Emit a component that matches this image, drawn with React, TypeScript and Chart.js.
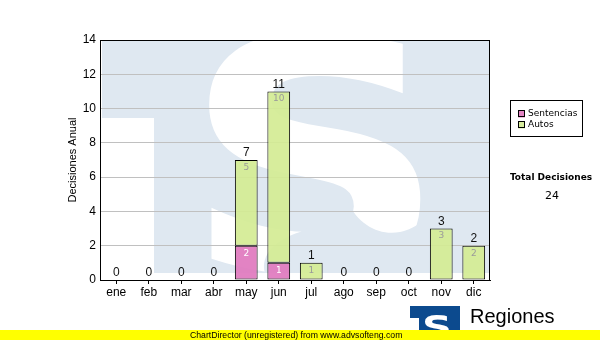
import React, { useEffect, useRef } from "react";
import { Chart, registerables } from "chart.js";

Chart.register(...registerables);

const months = ["ene", "feb", "mar", "abr", "may", "jun", "jul", "ago", "sep", "oct", "nov", "dic"];
const seriesNames = ["Sentencias", "Autos"];
const sentencias = [0, 0, 0, 0, 2, 1, 0, 0, 0, 0, 0, 0];
const autos = [0, 0, 0, 0, 5, 10, 1, 0, 0, 0, 3, 2];
const yMin = 0;
const yMax = 14;
const yStep = 2;
const yTitle = "Decisiones Anual";
const totalTitle = "Total Decisiones";
const logoText = "Regiones";
const logoSub = "Tribunal Supremo de Justicia";
const footerText = "ChartDirector (unregistered) from www.advsofteng.com";

const PINK = "rgba(224,120,190,0.92)";
const GREEN = "rgba(212,236,148,0.92)";
const WM_BLUE = "#dfe8f1";

const decoPlugin = {
  id: "deco",
  beforeDraw(chart: any) {
    const ctx = chart.ctx;
    const a = chart.chartArea;
    ctx.save();
    ctx.fillStyle = "#ffffff";
    ctx.fillRect(0, 0, chart.width, chart.height);
    ctx.beginPath();
    ctx.rect(a.left, a.top, a.right - a.left, a.bottom - a.top);
    ctx.clip();
    // watermark logo
    const L = a.left;
    const T = a.top;
    const wmBottom = a.bottom - 7;
    ctx.fillStyle = WM_BLUE;
    ctx.fillRect(L + 2, T + 1, a.right - L - 3, wmBottom - T - 1);
    ctx.fillStyle = "#ffffff";
    ctx.fillRect(L + 2, T + 78, 52, wmBottom - T - 78);
    ctx.save();
    ctx.translate(L + 215, wmBottom - 2);
    ctx.scale(1.14, 1);
    ctx.font = 'bold 322px "DejaVu Sans"';
    ctx.textAlign = "center";
    ctx.textBaseline = "alphabetic";
    ctx.fillText("S", 0, 0);
    ctx.restore();
    // open lower bowl
    ctx.fillStyle = WM_BLUE;
    ctx.beginPath();
    ctx.moveTo(L + 165, wmBottom);
    ctx.bezierCurveTo(L + 160, T + 215, L + 175, T + 200, L + 200, T + 192);
    ctx.lineTo(L + 248, T + 162);
    ctx.bezierCurveTo(L + 258, T + 185, L + 280, T + 196, L + 300, T + 192);
    ctx.bezierCurveTo(L + 318, T + 188, L + 326, T + 178, L + 330, T + 170);
    ctx.lineTo(L + 345, T + 170);
    ctx.lineTo(L + 345, wmBottom);
    ctx.closePath();
    ctx.fill();
    ctx.restore();
  },
  afterDatasetsDraw(chart: any) {
    const ctx = chart.ctx;
    const a = chart.chartArea;
    const m0 = chart.getDatasetMeta(0);
    const m1 = chart.getDatasetMeta(1);
    ctx.save();
    ctx.textAlign = "center";
    ctx.textBaseline = "top";
    ctx.font = '9px "DejaVu Sans"';
    months.forEach((_, i) => {
      if (sentencias[i] > 0) {
        const el = m0.data[i];
        ctx.fillStyle = "#ffffff";
        ctx.fillText(String(sentencias[i]), el.x, el.y + 3);
      }
      if (autos[i] > 0) {
        const el = m1.data[i];
        ctx.fillStyle = "#9a9a9a";
        ctx.fillText(String(autos[i]), el.x, el.y + 3);
      }
    });
    ctx.font = '12px "Liberation Sans"';
    ctx.textBaseline = "bottom";
    ctx.fillStyle = "#111111";
    months.forEach((_, i) => {
      const el = m1.data[i];
      const tot = sentencias[i] + autos[i];
      ctx.fillText(String(tot), el.x, el.y - 1);
    });
    ctx.strokeStyle = "#000000";
    ctx.lineWidth = 1;
    ctx.strokeRect(a.left + 0.5, a.top + 0.5, a.right - a.left - 1, a.bottom - a.top);
    ctx.restore();
  },
  afterDraw(chart: any) {
    const ctx = chart.ctx;
    const a = chart.chartArea;
    ctx.save();
    ctx.save();
    ctx.translate(73, (a.top + a.bottom) / 2);
    ctx.rotate(-Math.PI / 2);
    ctx.font = '11px "Liberation Sans"';
    ctx.fillStyle = "#000000";
    ctx.textAlign = "center";
    ctx.textBaseline = "middle";
    ctx.fillText(yTitle, 0, 0);
    ctx.restore();

    const lx = 510, ly = 100;
    ctx.fillStyle = "#ffffff";
    ctx.fillRect(lx, ly, 73, 37);
    ctx.strokeStyle = "#000000";
    ctx.lineWidth = 1;
    ctx.strokeRect(lx + 0.5, ly + 0.5, 72, 36);
    const colors = [PINK, GREEN];
    ctx.font = '9px "DejaVu Sans"';
    ctx.textAlign = "left";
    ctx.textBaseline = "middle";
    seriesNames.forEach((n, k) => {
      const yy = ly + 14 + k * 11;
      ctx.fillStyle = colors[k];
      ctx.fillRect(lx + 8, yy - 3.5, 7, 7);
      ctx.strokeStyle = "#000";
      ctx.strokeRect(lx + 8.5, yy - 3.5, 6, 6);
      ctx.fillStyle = "#000";
      ctx.fillText(n, lx + 18, yy);
    });

    const total = sentencias.reduce((s, v) => s + v, 0) + autos.reduce((s, v) => s + v, 0);
    ctx.textAlign = "center";
    ctx.font = 'bold 9px "DejaVu Sans"';
    ctx.fillText(totalTitle, 551, 178);
    ctx.font = '11px "DejaVu Sans"';
    ctx.fillText(String(total), 552, 196);

    // logo
    ctx.fillStyle = "#0c4a8e";
    ctx.fillRect(410, 306, 50, 26);
    ctx.fillStyle = "#ffffff";
    ctx.fillRect(410, 318, 9, 14);
    ctx.save();
    ctx.translate(437, 338);
    ctx.scale(1.3, 1);
    ctx.font = 'bold 32px "DejaVu Sans"';
    ctx.textBaseline = "alphabetic";
    ctx.fillText("S", 0, 0);
    ctx.restore();
    ctx.fillStyle = "#000000";
    ctx.textAlign = "left";
    ctx.textBaseline = "alphabetic";
    ctx.font = '20px "Liberation Sans"';
    ctx.fillText(logoText, 470, 323);
    ctx.font = '9px "Liberation Sans"';
    ctx.fillText(logoSub, 469, 337);

    ctx.fillStyle = "#ffff00";
    ctx.fillRect(0, 330, chart.width, 10);
    ctx.fillStyle = "#000000";
    ctx.font = '8.7px "Liberation Sans"';
    ctx.textBaseline = "middle";
    ctx.fillText(footerText, 190, 335.5);
    ctx.restore();
  },
};

export default function App() {
  const ref = useRef<HTMLCanvasElement | null>(null);
  useEffect(() => {
    if (!ref.current) return;
    const chart = new Chart(ref.current, {
      type: "bar",
      data: {
        labels: months,
        datasets: [
          {
            label: seriesNames[0],
            data: sentencias,
            backgroundColor: PINK,
            borderColor: "#000000",
            borderWidth: 1,
            borderSkipped: false,
          },
          {
            label: seriesNames[1],
            data: autos,
            backgroundColor: GREEN,
            borderColor: "#000000",
            borderWidth: 1,
            borderSkipped: false,
          },
        ],
      },
      options: {
        responsive: false,
        animation: false,
        devicePixelRatio: 1,
        datasets: { bar: { barPercentage: 0.7, categoryPercentage: 1 } },
        layout: { padding: { left: 0, right: 110, top: 40, bottom: 0 } },
        plugins: { legend: { display: false }, tooltip: { enabled: false } },
        scales: {
          x: {
            stacked: true,
            afterFit: (s: any) => {
              s.height = 60;
            },
            grid: {
              offset: false,
              drawOnChartArea: false,
              drawTicks: true,
              tickLength: 4,
              color: "#000000",
            },
            border: { color: "#000000", width: 1 },
            ticks: {
              color: "#000000",
              padding: 1,
              font: { family: "Liberation Sans", size: 12 },
              maxRotation: 0,
            },
          },
          y: {
            stacked: true,
            min: yMin,
            max: yMax,
            afterFit: (s: any) => {
              s.width = 100;
            },
            grid: { color: "#c0c0c0", drawTicks: false, tickLength: 0 },
            border: { color: "#000000", width: 1 },
            ticks: {
              stepSize: yStep,
              color: "#000000",
              padding: 4,
              font: { family: "Liberation Sans", size: 12 },
            },
          },
        },
      },
      plugins: [decoPlugin],
    });
    return () => chart.destroy();
  }, []);
  return (
    <div style={{ position: "absolute", left: 0, top: 0, width: 600, height: 340 }}>
      <canvas ref={ref} width={600} height={340} style={{ display: "block", width: 600, height: 340 }} />
    </div>
  );
}
